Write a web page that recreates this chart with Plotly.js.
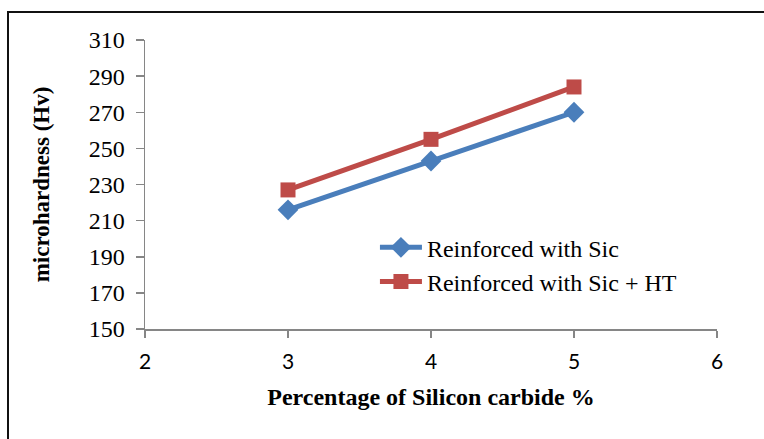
<!DOCTYPE html>
<html>
<head>
<meta charset="utf-8">
<script src="https://cdn.plot.ly/plotly-3.0.1.min.js"></script>
<style>
html,body{margin:0;padding:0;background:#fff;}
#wrap{position:relative;width:764px;height:439px;overflow:hidden;}
#chart{position:absolute;left:0;top:0;width:764px;height:439px;}
#frame{position:absolute;left:7px;top:11px;width:800px;height:500px;border-left:2px solid #111;border-top:2px solid #111;pointer-events:none;}
</style>
</head>
<body>
<div id="wrap"><div id="chart"></div><div id="frame"></div></div>
<script>
const sicPercent = [3, 4, 5];
const hardnessSic = [216, 243, 270];
const hardnessSicHT = [227, 255, 284];
const seriesNames = ["Reinforced with Sic", "Reinforced with Sic + HT"];
const yTicks = [150, 170, 190, 210, 230, 250, 270, 290, 310];
const xTicks = [2, 3, 4, 5, 6];

const serif = 'Liberation Serif, Times New Roman, serif';

const traces = [
  {x: sicPercent, y: hardnessSic, name: seriesNames[0], type: 'scatter', mode: 'lines+markers',
   line: {color: '#4A7EBB', width: 5}, marker: {symbol: 'diamond', size: 16, color: '#4A7EBB'}},
  {x: sicPercent, y: hardnessSicHT, name: seriesNames[1], type: 'scatter', mode: 'lines+markers',
   line: {color: '#BE4B48', width: 5}, marker: {symbol: 'square', size: 15, color: '#BE4B48'}}
];

const layout = {
  width: 764, height: 439,
  margin: {l: 145, r: 47, t: 40, b: 110},
  paper_bgcolor: '#fff', plot_bgcolor: '#fff',
  showlegend: true,
  legend: {x: 0.402, y: 0.359, xanchor: 'left', yanchor: 'top', bgcolor: 'rgba(0,0,0,0)',
           font: {family: serif, size: 24, color: '#000'},
           tracegroupgap: 0, itemwidth: 42},
  xaxis: {range: [2, 6], tickvals: xTicks, ticktext: xTicks.map(String),
          showgrid: false, zeroline: false, showline: true, linecolor: '#868686', linewidth: 1.5,
          ticks: 'outside', ticklen: 7, tickcolor: '#868686', tickwidth: 1.5,
          ticklabelstandoff: 6,
          tickfont: {family: 'Lato, Open Sans, sans-serif', size: 21, color: '#000'},
          title: {text: '<b>Percentage of Silicon carbide %</b>', standoff: 16,
                  font: {family: serif, size: 24, color: '#000'}}},
  yaxis: {range: [150, 310], tickvals: yTicks, ticktext: yTicks.map(String),
          showgrid: false, zeroline: false, showline: true, linecolor: '#868686', linewidth: 1.5,
          ticks: 'outside', ticklen: 8, tickcolor: '#868686', tickwidth: 1.5,
          ticklabelstandoff: 6,
          tickfont: {family: serif, size: 24, color: '#000'},
          title: {text: '<b>microhardness (Hv)</b>', standoff: 32,
                  font: {family: serif, size: 23, color: '#000'}}}
};

Plotly.newPlot('chart', traces, layout, {displayModeBar: false, staticPlot: true});
</script>
</body>
</html>
